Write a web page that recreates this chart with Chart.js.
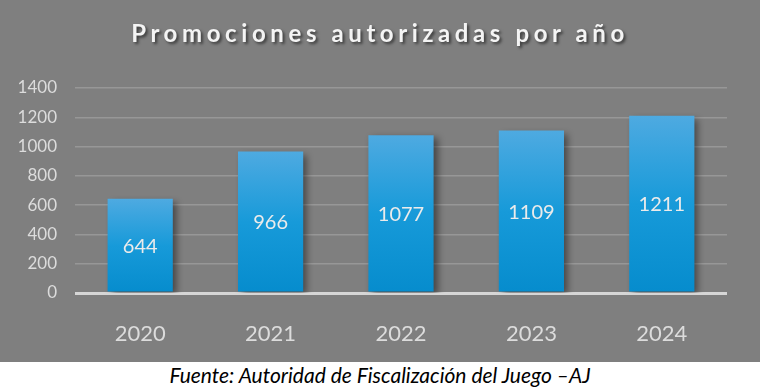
<!DOCTYPE html>
<html lang="es">
<head>
<meta charset="UTF-8">
<title>Promociones autorizadas por año</title>
<script src="https://cdn.jsdelivr.net/npm/chart.js"></script>
<style>
  html, body { margin: 0; padding: 0; background: #ffffff; }
  #wrap { position: relative; width: 760px; height: 362px; background: #7f7f7f; }
  #title {
    position: absolute; left: 0; top: 18px; width: 760px; text-align: center;
    font: bold 24px Lato, "Open Sans", sans-serif; letter-spacing: 4.6px;
    color: #f4f4f4; text-shadow: 2px 2px 3px rgba(0,0,0,0.55);
  }
  #chart { position: absolute; left: 0; top: 0; }
  #fuente {
    width: 760px; text-align: center; margin-top: 0px;
    font: italic 21px Lato, sans-serif; color: #000;
  }
</style>
</head>
<body>
<div id="wrap">
  <canvas id="chart" width="760" height="362"></canvas>
  <div id="title">Promociones autorizadas por año</div>
</div>
<div id="fuente">Fuente: Autoridad de Fiscalización del Juego –AJ</div>
<script>
// datos del gráfico
const years = ['2020', '2021', '2022', '2023', '2024'];
const promociones = [644, 966, 1077, 1109, 1211];
const yTicks = [0, 200, 400, 600, 800, 1000, 1200, 1400];

// sombra de barras + etiquetas centradas
const barExtras = {
  id: 'barExtras',
  beforeDatasetsDraw(chart) {
    const ctx = chart.ctx;
    ctx.save();
    ctx.shadowColor = 'rgba(0,0,0,0.45)';
    ctx.shadowBlur = 7;
    ctx.shadowOffsetX = 4;
    ctx.shadowOffsetY = 3;
  },
  afterDatasetsDraw(chart) {
    const ctx = chart.ctx;
    ctx.restore();
    const meta = chart.getDatasetMeta(0);
    ctx.save();
    ctx.font = '20px Lato, "Open Sans", sans-serif';
    ctx.fillStyle = '#ebebeb';
    ctx.textAlign = 'center';
    ctx.textBaseline = 'middle';
    meta.data.forEach((bar, i) => {
      const mid = (bar.y + bar.base) / 2;
      ctx.fillText(String(promociones[i]), bar.x, mid + 1);
    });
    ctx.restore();
  }
};

function barGradient(context) {
  const chart = context.chart;
  const y = chart.scales.y;
  if (!y || context.type !== 'data') return '#1597d6';
  const top = y.getPixelForValue(context.raw);
  const bottom = y.getPixelForValue(0);
  if (!isFinite(top) || !isFinite(bottom)) return '#1597d6';
  const g = chart.ctx.createLinearGradient(0, top, 0, bottom);
  g.addColorStop(0, '#4eaae1');
  g.addColorStop(0.5, '#179ad9');
  g.addColorStop(1, '#068ccd');
  return g;
}

new Chart(document.getElementById('chart'), {
  type: 'bar',
  data: {
    labels: years,
    datasets: [{
      data: promociones,
      backgroundColor: barGradient,
      borderWidth: 0,
      categoryPercentage: 0.5,
      barPercentage: 1
    }]
  },
  options: {
    responsive: false,
    animation: false,
    layout: { padding: { top: 88, right: 33, left: 0, bottom: 0 } },
    plugins: { legend: { display: false }, tooltip: { enabled: false } },
    scales: {
      x: {
        grid: { display: false },
        border: { display: false },
        ticks: { color: '#dcdcdc', font: { family: 'Lato, "Open Sans", sans-serif', size: 22 }, padding: 20 },
        afterFit(scale) { scale.height = 69; }
      },
      y: {
        min: 0, max: 1400,
        afterBuildTicks(scale) { scale.ticks = yTicks.map(v => ({ value: v })); },
        grid: {
          drawTicks: false,
          color: c => c.tick && c.tick.value === 0 ? '#d6d6d6' : '#979797',
          lineWidth: c => c.tick && c.tick.value === 0 ? 3 : 1.5
        },
        border: { display: false },
        ticks: {
          color: '#dcdcdc',
          font: { family: 'Lato, "Open Sans", sans-serif', size: 17 },
          padding: 18,
          callback: v => String(v)
        },
        afterFit(scale) { scale.width = 75; }
      }
    }
  },
  plugins: [barExtras]
});
</script>
</body>
</html>
